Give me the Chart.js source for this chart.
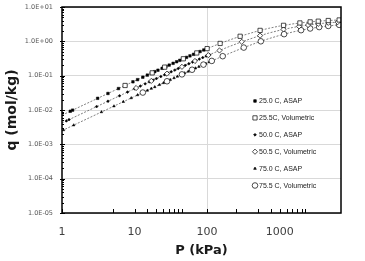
<!DOCTYPE html>
<html lang="en">
<head>
    <meta charset="UTF-8">
    <title>Isotherms</title>
    <script src="https://cdn.jsdelivr.net/npm/chart.js"></script>
    <style>
        body { margin: 0; background: #fff; }
        .wrap { width: 365px; height: 261px; position: relative; }
    </style>
</head>
<body>
    <div class="wrap">
        <canvas id="isoChart"></canvas>
    </div>

    <script>
        // 25 C
        const p25Asap = [1.3, 1.4, 3.1, 4.3, 6.0, 7.5, 9.5, 11, 13, 15, 17, 19, 21, 24, 27, 30, 34, 38, 42, 47, 52, 58, 65, 72, 80, 90, 100];
        const q25Asap = [0.0092, 0.0099, 0.0219, 0.0303, 0.0421, 0.0525, 0.0663, 0.0766, 0.0903, 0.1039, 0.1173, 0.1308, 0.1441, 0.164, 0.1836, 0.2031, 0.2289, 0.2543, 0.2794, 0.3105, 0.3411, 0.3772, 0.4186, 0.4591, 0.5045, 0.56, 0.6139];
        const p25Vol = [7.4, 17.5, 26, 47, 72, 100, 151, 285, 537, 1130, 1900, 2630, 3400, 4670, 6600];
        const q25Vol = [0.0518, 0.1207, 0.1771, 0.3105, 0.4591, 0.614, 0.868, 1.403, 2.082, 2.921, 3.428, 3.689, 3.862, 4.038, 4.188];

        // 50 C
        const p50Asap = [1.15, 1.25, 3.0, 4.3, 6.2, 8, 10, 12, 14, 16, 18, 20, 23, 26, 29, 32, 36, 40, 45, 50, 56, 63, 70, 78, 87, 97, 108];
        const q50Asap = [0.00482, 0.00524, 0.01256, 0.01798, 0.02588, 0.03333, 0.04158, 0.0498, 0.058, 0.0661, 0.0743, 0.0824, 0.0944, 0.1064, 0.1184, 0.1302, 0.1459, 0.1615, 0.1809, 0.2, 0.2227, 0.2489, 0.2748, 0.3039, 0.3362, 0.3714, 0.4094];
        const p50Vol = [10.5, 17, 28, 45, 68, 104, 148, 300, 537, 1130, 1850, 2460, 3400, 4680, 6300];
        const q50Vol = [0.04364, 0.0702, 0.1144, 0.1809, 0.2674, 0.3957, 0.5415, 0.969, 1.467, 2.228, 2.726, 2.986, 3.245, 3.461, 3.625];

        // 75 C
        const p75Asap = [1.05, 1.45, 3.5, 5.2, 7, 9, 11, 13, 15, 17, 19, 22, 25, 28, 31, 35, 39, 44, 49, 55, 62, 69, 77, 86, 96, 107];
        const q75Asap = [0.00262, 0.00362, 0.00873, 0.01295, 0.01742, 0.02236, 0.0273, 0.03222, 0.03712, 0.04202, 0.0469, 0.0542, 0.06146, 0.0687, 0.0759, 0.0855, 0.095, 0.1068, 0.1186, 0.1326, 0.1488, 0.1648, 0.183, 0.2032, 0.2254, 0.2495];
        const p75Vol = [13, 28, 45, 62, 89, 116, 164, 320, 550, 1150, 1970, 2630, 3500, 4670, 6600];
        const q75Vol = [0.03222, 0.0687, 0.1092, 0.1488, 0.2099, 0.2689, 0.3691, 0.6577, 1.002, 1.6175, 2.112, 2.367, 2.6, 2.808, 3.021];

        // fitted curves
        const pFit = [1, 1.5, 2, 3, 5, 7, 10, 15, 20, 30, 50, 70, 100, 150, 200, 300, 500, 700, 1000, 1500, 2000, 3000, 4000, 5000, 6000, 7000];
        const q25Fit = [0.00707, 0.0106, 0.01413, 0.02115, 0.03515, 0.04906, 0.06977, 0.1039, 0.1374, 0.2031, 0.3289, 0.4476, 0.6139, 0.8632, 1.0832, 1.4536, 2.0011, 2.3864, 2.789, 3.2103, 3.4725, 3.7815, 3.9575, 4.0713, 4.1508, 4.2095];
        const q50Fit = [0.0042, 0.00629, 0.00838, 0.01256, 0.0209, 0.0292, 0.04158, 0.0621, 0.0824, 0.1223, 0.2, 0.2748, 0.3818, 0.5478, 0.7, 0.969, 1.4, 1.7294, 2.1, 2.52, 2.8, 3.15, 3.36, 3.5, 3.6, 3.675];
        const q75Fit = [0.0025, 0.00375, 0.004993, 0.007485, 0.01246, 0.01742, 0.02483, 0.03712, 0.04933, 0.07351, 0.1209, 0.1671, 0.2342, 0.3405, 0.4405, 0.6236, 0.9342, 1.1879, 1.4916, 1.862, 2.1259, 2.4769, 2.6998, 2.8539, 2.9668, 3.053];

        // axis ticks
        const xLabelTicks = [1, 10, 100, 1000];
        const xMinorTicks = [5, 15, 20, 25, 30, 35, 40, 45, 250, 500, 750, 1250, 1500, 1750, 2000, 2250];
        const yTicks = [0.00001, 0.0001, 0.001, 0.01, 0.1, 1, 10];
        const yTickLabels = ['1.0E-05', '1.0E-04', '1.0E-03', '1.0E-02', '1.0E-01', '1.0E+00', '1.0E+01'];

        const pts = (xs, ys) => xs.map((x, i) => ({ x: x, y: ys[i] }));

        const asapStyle = (style, r) => ({
            showLine: false, pointStyle: style, pointRadius: r, pointBorderWidth: 0.5,
            pointBackgroundColor: '#000', pointBorderColor: '#000', order: 2
        });
        const volStyle = (style, r) => ({
            showLine: false, pointStyle: style, pointRadius: r, pointBorderWidth: 0.7,
            pointBackgroundColor: '#fff', pointBorderColor: '#000', order: 1
        });
        const fitStyle = {
            showLine: true, pointRadius: 0, borderColor: '#4a4a4a', borderWidth: 0.7,
            borderDash: [2, 1.5], fill: false, order: 3, isFit: true
        };

        const datasets = [
            { label: '25.0 C, ASAP', data: pts(p25Asap, q25Asap), ...asapStyle('rect', 1.8) },
            { label: '25.5C, Volumetric', data: pts(p25Vol, q25Vol), ...volStyle('rect', 3.0) },
            { label: '50.0 C, ASAP', data: pts(p50Asap, q50Asap), ...asapStyle('rectRot', 1.4) },
            { label: '50.5 C, Volumetric', data: pts(p50Vol, q50Vol), ...volStyle('rectRot', 2.6) },
            { label: '75.0 C, ASAP', data: pts(p75Asap, q75Asap), ...asapStyle('triangle', 1.5) },
            { label: '75.5 C, Volumetric', data: pts(p75Vol, q75Vol), ...volStyle('circle', 2.8) },
            { label: 'fit25', data: pts(pFit, q25Fit), ...fitStyle },
            { label: 'fit50', data: pts(pFit, q50Fit), ...fitStyle },
            { label: 'fit75', data: pts(pFit, q75Fit), ...fitStyle }
        ];

        function drawMarker(ctx, style, r, fill, x, y) {
            ctx.beginPath();
            if (style === 'rect') {
                const s = r * Math.SQRT1_2;
                ctx.rect(x - s, y - s, 2 * s, 2 * s);
            } else if (style === 'rectRot') {
                ctx.moveTo(x, y - r); ctx.lineTo(x + r, y); ctx.lineTo(x, y + r); ctx.lineTo(x - r, y); ctx.closePath();
            } else if (style === 'triangle') {
                ctx.moveTo(x, y - r); ctx.lineTo(x + r * 0.87, y + r * 0.5); ctx.lineTo(x - r * 0.87, y + r * 0.5); ctx.closePath();
            } else {
                ctx.arc(x, y, r, 0, Math.PI * 2);
            }
            ctx.fillStyle = fill;
            ctx.fill();
            ctx.stroke();
        }

        // Legend drawn inside the plot area
        const insideLegend = {
            id: 'insideLegend',
            afterDraw(chart) {
                const ctx = chart.ctx;
                const x0 = 255, y0 = 101, step = 16.9;
                ctx.save();
                ctx.strokeStyle = '#000';
                ctx.lineWidth = 0.7;
                ctx.font = '7px "Liberation Sans", Arial, sans-serif';
                ctx.textBaseline = 'middle';
                chart.data.datasets.filter(d => !d.isFit).forEach((d, i) => {
                    const y = y0 + i * step;
                    drawMarker(ctx, d.pointStyle, d.pointRadius, d.pointBackgroundColor, x0, y);
                    ctx.fillStyle = '#222';
                    ctx.fillText(d.label, x0 + 4, y + 0.5);
                });
                ctx.restore();
            }
        };

        // Inner tick marks and the plot frame
        const frameTicks = {
            id: 'frameTicks',
            afterDraw(chart) {
                const { ctx, chartArea: a, scales } = chart;
                const xs = scales.x, ys = scales.y;
                ctx.save();
                ctx.strokeStyle = '#000';
                ctx.lineWidth = 1;
                xs.ticks.forEach(t => {
                    const px = Math.round(xs.getPixelForValue(t.value)) + 0.5;
                    ctx.beginPath();
                    ctx.moveTo(px, a.bottom);
                    ctx.lineTo(px, a.bottom - 4);
                    ctx.stroke();
                });
                yTicks.forEach((v, i) => {
                    const py = Math.round(ys.getPixelForValue(v)) + 0.5;
                    ctx.beginPath();
                    ctx.moveTo(a.left - 2, py);
                    ctx.lineTo(a.left + 3, py);
                    ctx.stroke();
                    if (i < yTicks.length - 1) {
                        for (let m = 2; m < 10; m++) {
                            const pm = Math.round(ys.getPixelForValue(v * m)) + 0.5;
                            ctx.beginPath();
                            ctx.moveTo(a.left, pm);
                            ctx.lineTo(a.left + 2, pm);
                            ctx.stroke();
                        }
                    }
                });
                ctx.lineWidth = 1.5;
                ctx.strokeRect(a.left, a.top, a.right - a.left, a.bottom - a.top);
                ctx.restore();
            }
        };

        new Chart(document.getElementById('isoChart').getContext('2d'), {
            type: 'scatter',
            data: { datasets: datasets },
            options: {
                responsive: true,
                maintainAspectRatio: false,
                animation: false,
                layout: { padding: { top: 0, right: 24, left: 0, bottom: 0 } },
                plugins: { legend: { display: false }, tooltip: { enabled: false } },
                scales: {
                    x: {
                        type: 'logarithmic',
                        min: 1,
                        max: 7000,
                        afterBuildTicks: (s) => {
                            s.ticks = xLabelTicks.concat(xMinorTicks).sort((a, b) => a - b).map(v => ({ value: v }));
                        },
                        afterFit: (s) => { s.height = 48; },
                        border: { display: false },
                        grid: {
                            drawTicks: false,
                            color: (c) => (c.tick && c.tick.value === 100 ? '#d9d9d9' : 'rgba(0,0,0,0)'),
                            lineWidth: 1
                        },
                        ticks: {
                            autoSkip: false,
                            maxRotation: 0,
                            padding: 13,
                            color: '#404040',
                            font: { family: 'DejaVu Sans', size: 11 },
                            callback: (v) => (xLabelTicks.includes(v) ? String(v) : '')
                        },
                        title: {
                            display: true,
                            text: 'P (kPa)',
                            color: '#1a1a1a',
                            font: { family: 'DejaVu Sans', size: 13, weight: 'bold' },
                            padding: { top: 0, bottom: 3 }
                        }
                    },
                    y: {
                        type: 'logarithmic',
                        min: 0.00001,
                        max: 10,
                        afterBuildTicks: (s) => { s.ticks = yTicks.map(v => ({ value: v })); },
                        afterFit: (s) => { s.width = 62; s.paddingTop = 7; s.paddingBottom = 0; },
                        border: { display: false },
                        grid: { drawTicks: false, color: '#d9d9d9', lineWidth: 1 },
                        ticks: {
                            autoSkip: false,
                            padding: 9,
                            color: '#595959',
                            font: { family: 'DejaVu Sans', size: 6.5 },
                            callback: (v) => yTickLabels[yTicks.indexOf(v)] || ''
                        },
                        title: {
                            display: true,
                            text: 'q (mol/kg)',
                            color: '#1a1a1a',
                            font: { family: 'DejaVu Sans', size: 14, weight: 'bold' },
                            padding: { top: 4, bottom: 0 }
                        }
                    }
                }
            },
            plugins: [frameTicks, insideLegend]
        });
    </script>
</body>
</html>
